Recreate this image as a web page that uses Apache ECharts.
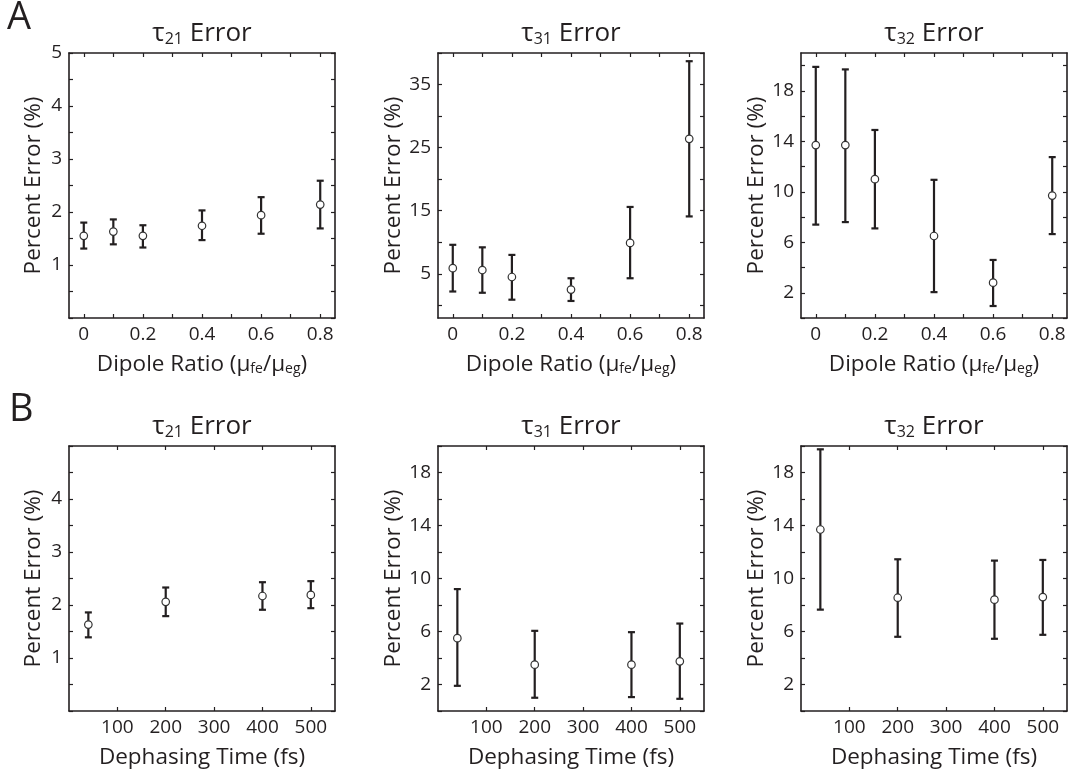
<!DOCTYPE html>
<html>
<head>
<meta charset="utf-8">
<title>Percent Error</title>
<script src="https://cdn.jsdelivr.net/npm/echarts@6/dist/echarts.min.js"></script>
<style>
  html, body { margin: 0; padding: 0; background: #fff; }
  #chart { width: 1072px; height: 775px; }
</style>
</head>
<body>
<div id="chart"></div>
<script>
// ---- x values ----
const dipoleRatio = [0, 0.1, 0.2, 0.4, 0.6, 0.8];
const dephasingTime = [40, 200, 400, 500];

// ---- row A: error vs dipole ratio ----
const a21Mean = [1.55, 1.63, 1.55, 1.74, 1.94, 2.14];
const a21Low  = [1.31, 1.39, 1.33, 1.47, 1.59, 1.69];
const a21High = [1.80, 1.86, 1.75, 2.03, 2.28, 2.59];

const a31Mean = [5.9, 5.6, 4.5, 2.5, 9.9, 26.4];
const a31Low  = [2.2, 2.0, 0.9, 0.7, 4.3, 14.1];
const a31High = [9.6, 9.2, 8.0, 4.3, 15.6, 38.7];

const a32Mean = [13.7, 13.7, 11.0, 6.5, 2.8, 9.7];
const a32Low  = [7.4, 7.6, 7.1, 2.05, 0.95, 6.65];
const a32High = [19.9, 19.7, 14.9, 10.95, 4.6, 12.75];

// ---- row B: error vs dephasing time ----
const b21Mean = [1.63, 2.06, 2.17, 2.19];
const b21Low  = [1.39, 1.79, 1.91, 1.94];
const b21High = [1.86, 2.33, 2.43, 2.45];

const b31Mean = [5.5, 3.5, 3.5, 3.75];
const b31Low  = [1.9, 1.0, 1.05, 0.92];
const b31High = [9.2, 6.05, 5.95, 6.6];

const b32Mean = [13.7, 8.55, 8.4, 8.6];
const b32Low  = [7.65, 5.6, 5.45, 5.75];
const b32High = [19.75, 11.45, 11.35, 11.4];

// ---- ticks and tick labels ----
const dipoleTicks  = [0, 0.1, 0.2, 0.3, 0.4, 0.5, 0.6, 0.7, 0.8];
const dipoleLabels = [0, 0.2, 0.4, 0.6, 0.8];
const timeTicks    = [100, 200, 300, 400, 500];
const timeLabels   = [100, 200, 300, 400, 500];
const halfTicks5   = [0, 0.5, 1, 1.5, 2, 2.5, 3, 3.5, 4, 4.5, 5];
const a21Labels    = [1, 2, 3, 4, 5];
const b21Labels    = [1, 2, 3, 4];
const a31Ticks     = [0, 5, 10, 15, 20, 25, 30, 35, 40];
const a31Labels    = [5, 15, 25, 35];
const evenTicks20  = [0, 2, 4, 6, 8, 10, 12, 14, 16, 18, 20];
const evenLabels   = [2, 6, 10, 14, 18];

const INK = '#231f20';
const FONT = '"Open Sans", "Noto Sans", sans-serif';

const dipoleName = '{a|Dipole Ratio (μ}{s|fe}{a|/μ}{s|eg}{a|)}';
const timeName = 'Dephasing Time (fs)';

const panels = [
  { left: 69,  top: 53,  sub: '21', x: dipoleRatio, mean: a21Mean, low: a21Low, high: a21High,
    xMin: -0.05, xMax: 0.85, xTicks: dipoleTicks, xLabels: dipoleLabels, xName: dipoleName,
    yMin: 0, yMax: 5, yTicks: halfTicks5, yLabels: a21Labels },
  { left: 438, top: 53,  sub: '31', x: dipoleRatio, mean: a31Mean, low: a31Low, high: a31High,
    xMin: -0.05, xMax: 0.85, xTicks: dipoleTicks, xLabels: dipoleLabels, xName: dipoleName,
    yMin: -2, yMax: 40, yTicks: a31Ticks, yLabels: a31Labels },
  { left: 801, top: 53,  sub: '32', x: dipoleRatio, mean: a32Mean, low: a32Low, high: a32High,
    xMin: -0.05, xMax: 0.85, xTicks: dipoleTicks, xLabels: dipoleLabels, xName: dipoleName,
    yMin: 0, yMax: 21, yTicks: evenTicks20, yLabels: evenLabels },
  { left: 69,  top: 446, sub: '21', x: dephasingTime, mean: b21Mean, low: b21Low, high: b21High,
    xMin: 0, xMax: 550, xTicks: timeTicks, xLabels: timeLabels, xName: timeName,
    yMin: 0, yMax: 5, yTicks: halfTicks5, yLabels: b21Labels },
  { left: 438, top: 446, sub: '31', x: dephasingTime, mean: b31Mean, low: b31Low, high: b31High,
    xMin: 0, xMax: 550, xTicks: timeTicks, xLabels: timeLabels, xName: timeName,
    yMin: 0, yMax: 20, yTicks: evenTicks20, yLabels: evenLabels },
  { left: 801, top: 446, sub: '32', x: dephasingTime, mean: b32Mean, low: b32Low, high: b32High,
    xMin: 0, xMax: 550, xTicks: timeTicks, xLabels: timeLabels, xName: timeName,
    yMin: 0, yMax: 20, yTicks: evenTicks20, yLabels: evenLabels }
];

const W = 266, H = 265;

const grid = [], xAxis = [], yAxis = [], series = [], title = [];

const lineStyle = { color: INK, width: 1.6 };

panels.forEach((p, i) => {
  grid.push({ left: p.left, top: p.top, width: W, height: H, containLabel: false });

  const xBase = {
    type: 'value', gridIndex: i, min: p.xMin, max: p.xMax,
    splitLine: { show: false },
    axisLine: { show: true, onZero: false, lineStyle },
    axisTick: { show: true, inside: true, length: 4, customValues: p.xTicks, lineStyle: { color: INK, width: 1.2 } }
  };
  xAxis.push(Object.assign({}, xBase, {
    position: 'bottom',
    axisLabel: { show: true, customValues: p.xLabels, color: INK, fontFamily: FONT, fontSize: 19, margin: 7 },
    name: p.xName, nameLocation: 'middle', nameGap: 35,
    nameTextStyle: {
      color: INK, fontFamily: FONT, fontSize: 22.5,
      rich: {
        a: { color: INK, fontFamily: FONT, fontSize: 22.5 },
        s: { color: INK, fontFamily: FONT, fontSize: 14, verticalAlign: 'bottom', padding: [6, 0, 0, 0] }
      }
    }
  }));
  xAxis.push(Object.assign({}, xBase, { position: 'top', axisLabel: { show: false } }));

  const yBase = {
    type: 'value', gridIndex: i, min: p.yMin, max: p.yMax,
    splitLine: { show: false },
    axisLine: { show: true, onZero: false, lineStyle },
    axisTick: { show: true, inside: true, length: 4, customValues: p.yTicks, lineStyle: { color: INK, width: 1.2 } }
  };
  yAxis.push(Object.assign({}, yBase, {
    position: 'left',
    axisLabel: { show: true, customValues: p.yLabels, color: INK, fontFamily: FONT, fontSize: 19, margin: 7 },
    name: 'Percent Error (%)', nameLocation: 'middle', nameGap: 24, nameRotate: 90,
    nameTextStyle: { color: INK, fontFamily: FONT, fontSize: 22.5 }
  }));
  yAxis.push(Object.assign({}, yBase, { position: 'right', axisLabel: { show: false } }));

  title.push({
    text: '{t|τ}{s|' + p.sub + '}{t| Error}',
    left: p.left + W / 2, top: p.top - 32, textAlign: 'center', padding: 0,
    textStyle: {
      fontWeight: 'normal',
      rich: {
        t: { color: INK, fontFamily: FONT, fontSize: 26, fontWeight: 'normal' },
        s: { color: INK, fontFamily: FONT, fontSize: 16, fontWeight: 'normal', verticalAlign: 'bottom', padding: [8, 0, 0, 0] }
      }
    }
  });

  // vertical error bars with end caps
  series.push({
    type: 'custom', xAxisIndex: 2 * i, yAxisIndex: 2 * i,
    data: p.x.map((x, k) => [x, p.low[k], p.high[k]]),
    encode: { x: 0, y: [1, 2] },
    silent: true,
    renderItem: function (params, api) {
      const x = api.value(0);
      const lo = api.coord([x, api.value(1)]);
      const hi = api.coord([x, api.value(2)]);
      const cap = 3.5;
      const st = { stroke: INK, lineWidth: 2.2 };
      return {
        type: 'group',
        children: [
          { type: 'line', shape: { x1: lo[0], y1: lo[1], x2: hi[0], y2: hi[1] }, style: st },
          { type: 'line', shape: { x1: lo[0] - cap, y1: lo[1], x2: lo[0] + cap, y2: lo[1] }, style: st },
          { type: 'line', shape: { x1: hi[0] - cap, y1: hi[1], x2: hi[0] + cap, y2: hi[1] }, style: st }
        ]
      };
    },
    z: 2
  });

  // mean markers
  series.push({
    type: 'scatter', xAxisIndex: 2 * i, yAxisIndex: 2 * i,
    data: p.x.map((x, k) => [x, p.mean[k]]),
    symbol: 'circle', symbolSize: 7.5,
    itemStyle: { color: '#ffffff', borderColor: '#333333', borderWidth: 1.2, opacity: 1 },
    silent: true,
    z: 3
  });
});

// panel letters
title.push({ text: 'A', left: 7, top: -1, padding: 0,
  textStyle: { color: INK, fontFamily: FONT, fontSize: 38, fontWeight: 'normal' } });
title.push({ text: 'B', left: 9, top: 391, padding: 0,
  textStyle: { color: INK, fontFamily: FONT, fontSize: 38, fontWeight: 'normal' } });

const chart = echarts.init(document.getElementById('chart'), null, { renderer: 'canvas' });
chart.setOption({
  backgroundColor: '#ffffff',
  animation: false,
  title, grid, xAxis, yAxis, series
});
</script>
</body>
</html>
